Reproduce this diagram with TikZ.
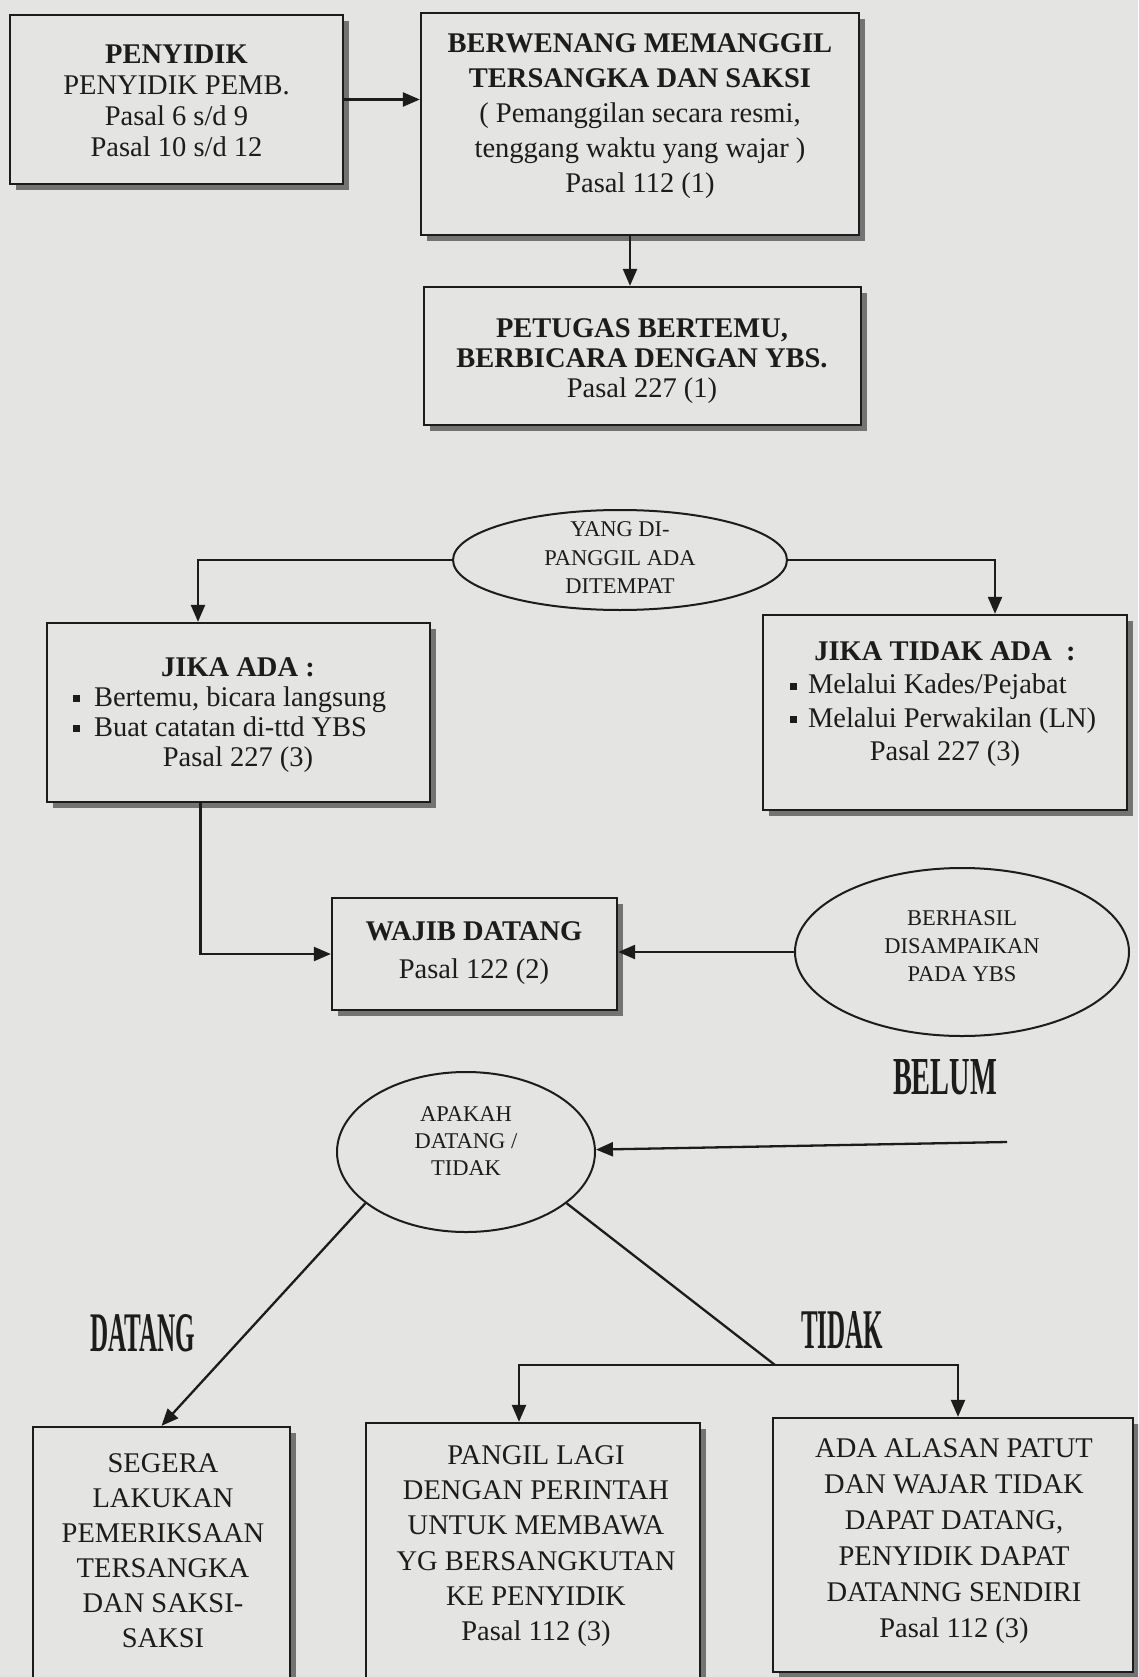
\documentclass[tikz,border=0pt]{standalone}
\usepackage{fontspec}
\setmainfont{Liberation Serif}
\usepackage{graphicx}
\usetikzlibrary{arrows.meta,shapes.geometric,shadows}
\definecolor{bgc}{RGB}{228,228,226}
\definecolor{ink}{RGB}{28,28,28}
\newcommand{\bul}{\raisebox{4pt}{\rule{7pt}{7pt}}}
\begin{document}
\begin{tikzpicture}[x=1pt,y=-1pt,
  box/.style={draw=ink, line width=2.3pt, fill=bgc, inner sep=0pt,
    drop shadow={shadow xshift=6pt, shadow yshift=-6pt, fill=black!55, opacity=1}},
  oval/.style={draw=ink, line width=2pt, ellipse, inner sep=0pt},
  txt/.style={align=center, inner sep=0pt, text=ink},
  bigfont/.style={font=\fontsize{28.5}{#1}\selectfont},
  smallfont/.style={font=\fontsize{22.5}{#1}\selectfont},
  arr/.style={draw=ink, line width=2.3pt, -{Triangle[length=17pt,width=14pt]}},
  ln/.style={draw=ink, line width=2.3pt}]
\useasboundingbox (0,0) rectangle (1138,1677);
\fill[bgc] (0,0) rectangle (1138,1677);
\begin{scope}
\clip (0,0) rectangle (1138,1677);
% boxes
\node[box, minimum width=333pt, minimum height=169pt] (penyidik) at (176.5,99.5) {};
\node[box, minimum width=438pt, minimum height=222pt] (berwenang) at (640,124) {};
\node[box, minimum width=437pt, minimum height=138pt] (petugas) at (642.5,356) {};
\node[oval, minimum width=334pt, minimum height=100pt] (yang) at (620,560) {};
\node[box, minimum width=383pt, minimum height=179pt] (jikaada) at (238.5,712.5) {};
\node[box, minimum width=364pt, minimum height=195pt] (jikatidak) at (945,712.5) {};
\node[box, minimum width=285pt, minimum height=112pt] (wajib) at (474.5,954) {};
\node[oval, minimum width=334pt, minimum height=168pt] (berhasil) at (962,952) {};
\node[oval, minimum width=258pt, minimum height=160pt] (apakah) at (466,1152) {};
\node[box, minimum width=257pt, minimum height=263pt] (segera) at (161.5,1558.5) {};
\node[box, minimum width=334pt, minimum height=267pt] (pangil) at (533,1556.5) {};
\node[box, minimum width=360pt, minimum height=254pt] (adaalasan) at (953,1545) {};
% texts
\node[txt, bigfont=31] (penyidik-t) at (176.5,101) {\textbf{PENYIDIK}\\PENYIDIK PEMB.\\Pasal 6 s/d 9\\Pasal 10 s/d 12};
\node[txt, bigfont=35] (berwenang-t) at (640,116) {\textbf{BERWENANG MEMANGGIL}\\\textbf{TERSANGKA DAN SAKSI}\\( Pemanggilan secara resmi,\\tenggang waktu yang wajar )\\Pasal 112 (1)};
\node[txt, bigfont=30] (petugas-t) at (642,361) {\textbf{PETUGAS BERTEMU,}\\\textbf{BERBICARA DENGAN YBS.}\\Pasal 227 (1)};
\node[txt, smallfont=28.5] (yang-t) at (620,558) {YANG DI-\\PANGGIL ADA\\DITEMPAT};
\node[txt, bigfont=30] (jikaada-t) at (238,715) {\textbf{JIKA ADA :}\\\makebox[330pt][l]{\bul\hspace{14pt}Bertemu, bicara langsung}\\\makebox[330pt][l]{\bul\hspace{14pt}Buat catatan di-ttd YBS}\\Pasal 227 (3)};
\node[txt, bigfont=33.5] (jikatidak-t) at (945,704) {\textbf{JIKA TIDAK ADA\ \ :}\\\makebox[310pt][l]{\bul\hspace{11pt}Melalui Kades/Pejabat}\\\makebox[310pt][l]{\bul\hspace{11pt}Melalui Perwakilan (LN)}\\Pasal 227 (3)};
\node[txt, bigfont=38] (wajib-t) at (474,953) {\textbf{WAJIB DATANG}\\Pasal 122 (2)};
\node[txt, smallfont=28] (berhasil-t) at (962,946) {BERHASIL\\DISAMPAIKAN\\PADA YBS};
\node[txt, smallfont=27] (apakah-t) at (466,1141) {APAKAH\\DATANG /\\TIDAK};
\node[txt, bigfont=35] (segera-t) at (163,1551) {SEGERA\\LAKUKAN\\PEMERIKSAAN\\TERSANGKA\\DAN SAKSI-\\SAKSI};
\node[txt, bigfont=35.2] (pangil-t) at (536,1546) {PANGIL LAGI\\DENGAN PERINTAH\\UNTUK MEMBAWA\\YG BERSANGKUTAN\\KE PENYIDIK\\Pasal 112 (3)};
\node[txt, bigfont=36] (adaalasan-t) at (954,1541) {ADA ALASAN PATUT\\DAN WAJAR TIDAK\\DAPAT DATANG,\\PENYIDIK DAPAT\\DATANNG SENDIRI\\Pasal 112 (3)};
% labels
\node[txt] (belum) at (945,1077) {\resizebox{104pt}{35pt}{\bfseries BELUM}};
\node[txt] (datang) at (143,1333) {\resizebox{105pt}{37pt}{\bfseries DATANG}};
\node[txt] (tidak) at (842,1330) {\resizebox{82pt}{37pt}{\bfseries TIDAK}};
% connectors
\draw[arr] (penyidik.east) -- (penyidik.east -| berwenang.west);
\draw[arr] ([xshift=-10pt]berwenang.south) -- ([xshift=-10pt]berwenang.south |- petugas.north);
\draw[arr] (yang.west) -| ([xshift=-40.5pt]jikaada.north);
\draw[arr] (yang.east) -| ([xshift=50pt]jikatidak.north);
\draw[arr] ([xshift=-38pt]jikaada.south) |- (wajib.west);
\draw[arr] (berhasil.west) -- (berhasil.west -| wajib.east);
\coordinate (belumstart) at (1007,1142);
\draw[arr] (belumstart) -- (apakah);
\draw[arr] (apakah.207) -- (segera.north);
\coordinate (tj) at (775,1365);
\draw[ln] (apakah.333) -- (tj);
\draw[arr] (tj) -| ([xshift=-14pt]pangil.north);
\draw[arr] (tj) -| ([xshift=5pt]adaalasan.north);
\end{scope}
\end{tikzpicture}
\end{document}
